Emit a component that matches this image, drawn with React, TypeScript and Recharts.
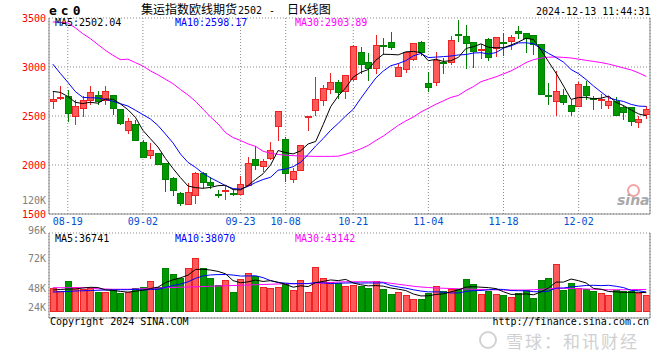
import React from "react";
import { ComposedChart, Bar, Line, XAxis, YAxis, CartesianGrid, Cell } from "recharts";

// trading days shown on the chart (MM-DD)
const dates = [
  "08-15", "08-16", "08-19", "08-20", "08-21", "08-22", "08-23", "08-26", "08-27", "08-28", "08-29", "08-30",
  "09-02", "09-03", "09-04", "09-05", "09-06", "09-09", "09-10", "09-11", "09-12", "09-13", "09-18", "09-19",
  "09-20", "09-23", "09-24", "09-25", "09-26", "09-27", "09-30",
  "10-08", "10-09", "10-10", "10-11", "10-14", "10-15", "10-16", "10-17", "10-18", "10-21", "10-22", "10-23",
  "10-24", "10-25", "10-28", "10-29", "10-30", "10-31",
  "11-01", "11-04", "11-05", "11-06", "11-07", "11-08", "11-11", "11-12", "11-13", "11-14", "11-15", "11-18",
  "11-19", "11-20", "11-21", "11-22", "11-25", "11-26", "11-27", "11-28", "11-29",
  "12-02", "12-03", "12-04", "12-05", "12-06", "12-09", "12-10", "12-11", "12-12", "12-13",
];

const opens = [
  2649, 2680, 2697, 2500, 2574, 2656, 2707, 2659, 2707, 2564,
  2353, 2411, 2231, 2095, 2115, 2013, 1860, 1714, 1602, 1690,
  1918, 1823, 1704, 1738, 1710, 1697, 1789, 2054, 1980, 2067,
  2394, 2258, 1857, 1945, 2490, 2557, 2659, 2768, 2843, 2751,
  2870, 3153, 3051, 2980, 3222, 3255, 2904, 2972, 3074, 3245,
  2830, 2837, 3048, 3041, 3335, 3310, 3245, 3170, 3279, 3184,
  3255, 3261, 3363, 3340, 3323, 3228, 2705, 2649, 2707, 2605,
  2598, 2802, 2678, 2662, 2605, 2649, 2582, 2582, 2435, 2513,
];
const highs = [
  2751, 2809, 2761, 2666, 2700, 2809, 2755, 2802, 2715, 2575,
  2480, 2462, 2258, 2224, 2125, 2020, 1874, 1720, 1816, 1925,
  1925, 1874, 1748, 1789, 1748, 1884, 2082, 2197, 2061, 2231,
  2545, 2286, 1969, 2200, 2500, 2898, 2819, 2939, 2870, 2915,
  3228, 3204, 3143, 3330, 3296, 3353, 3041, 3150, 3245, 3262,
  2945, 3149, 3092, 3312, 3483, 3430, 3250, 3238, 3296, 3300,
  3347, 3330, 3414, 3347, 3330, 3235, 2837, 2955, 2775, 2666,
  2843, 2853, 2700, 2728, 2700, 2694, 2615, 2590, 2496, 2605,
];
const lows = [
  2571, 2659, 2435, 2411, 2486, 2615, 2615, 2615, 2513, 2410,
  2319, 2241, 2071, 2061, 2000, 1720, 1687, 1578, 1595, 1605,
  1765, 1755, 1663, 1646, 1680, 1690, 1782, 1952, 1925, 2047,
  2241, 1823, 1816, 1935, 2343, 2503, 2598, 2728, 2673, 2673,
  2860, 2932, 2853, 2932, 3126, 3169, 2898, 2939, 3057, 3108,
  2741, 2802, 2932, 3023, 3251, 2980, 2990, 3082, 3057, 3102,
  3108, 3169, 3286, 3143, 3126, 2710, 2615, 2496, 2615, 2496,
  2590, 2666, 2557, 2571, 2571, 2500, 2462, 2401, 2377, 2469,
];
const closes = [
  2673, 2688, 2527, 2592, 2656, 2735, 2643, 2745, 2578, 2421,
  2439, 2251, 2078, 2149, 2003, 1856, 1741, 1605, 1724, 1918,
  1823, 1789, 1690, 1744, 1700, 1806, 2020, 1996, 2034, 2149,
  2541, 1911, 1929, 2197, 2496, 2666, 2779, 2843, 2741, 2911,
  3210, 3023, 2986, 3217, 3212, 3204, 3000, 3143, 3238, 3149,
  2792, 3071, 3035, 3272, 3325, 3242, 3159, 3180, 3102, 3296,
  3248, 3296, 3337, 3289, 3228, 2717, 2695, 2751, 2633, 2547,
  2819, 2707, 2668, 2670, 2649, 2503, 2537, 2445, 2469, 2571,
];

const ma5 = [
  2751, 2741, 2700, 2640, 2627, 2640, 2631, 2674, 2671, 2624,
  2565, 2487, 2353, 2268, 2184, 2067, 1965, 1871, 1786, 1769,
  1762, 1772, 1789, 1793, 1749, 1746, 1792, 1853, 1911, 2001,
  2148, 2126, 2113, 2145, 2215, 2240, 2413, 2596, 2705, 2788,
  2897, 2946, 2974, 3069, 3130, 3128, 3124, 3155, 3159, 3147,
  3064, 3079, 3057, 3064, 3099, 3189, 3207, 3236, 3202, 3196,
  3197, 3224, 3256, 3293, 3280, 3173, 3053, 2936, 2805, 2669,
  2689, 2691, 2675, 2682, 2703, 2639, 2605, 2561, 2521, 2502,
];
const ma10 = [
  3030, 2935, 2845, 2750, 2690, 2686, 2684, 2670, 2650, 2626,
  2602, 2559, 2514, 2470, 2404, 2316, 2226, 2112, 2027, 1976,
  1915, 1869, 1830, 1789, 1759, 1754, 1782, 1821, 1852, 1875,
  1947, 1959, 1983, 2028, 2108, 2194, 2270, 2355, 2425, 2501,
  2568, 2680, 2785, 2887, 2959, 3013, 3035, 3065, 3114, 3138,
  3096, 3101, 3106, 3112, 3123, 3127, 3143, 3146, 3133, 3147,
  3193, 3216, 3246, 3247, 3238, 3185, 3139, 3096, 3049, 2974,
  2931, 2872, 2805, 2744, 2686, 2664, 2648, 2618, 2601, 2598,
];
const ma30 = [
  3460, 3455, 3450, 3400, 3340, 3290, 3230, 3170, 3120, 3075,
  3080, 3045, 3010, 2960, 2920, 2875, 2830, 2770, 2715, 2650,
  2570, 2490, 2420, 2330, 2280, 2250, 2215, 2190, 2140, 2120,
  2108, 2100, 2095, 2092, 2090, 2088, 2088, 2088, 2090, 2110,
  2135, 2165, 2200, 2250, 2295, 2350, 2405, 2450, 2490, 2540,
  2580, 2620, 2655, 2690, 2710, 2760, 2800, 2850, 2875, 2900,
  2930, 2960, 3000, 3045, 3075, 3092, 3100, 3102, 3098, 3092,
  3080, 3068, 3057, 3045, 3030, 3010, 2990, 2970, 2940, 2904,
];

const volumes = [
  44600, 38600, 60000, 48000, 43400, 44600, 36600, 36600, 43400, 34600,
  36600, 44600, 46600, 60000, 48000, 84600, 73400, 65400, 86000, 105400,
  86000, 66000, 52000, 62000, 38000, 64000, 75400, 70000, 48000, 46000,
  48000, 54000, 42000, 62000, 38000, 88000, 66000, 56600, 55400, 50000,
  52000, 48600, 45400, 58600, 43400, 34000, 36600, 32000, 24000, 24000,
  35400, 50000, 38600, 43400, 43400, 63400, 54000, 34000, 38600, 34000,
  32000, 27400, 35400, 42000, 25400, 62000, 66000, 94000, 42000, 55400,
  45400, 43400, 38600, 35400, 32000, 42000, 38600, 38600, 35400, 32000,
];
const volMa5 = [
  42000, 43000, 44000, 44000, 46000, 47400, 47000, 42300, 41200, 39200,
  37800, 39600, 41400, 45000, 47600, 56700, 62400, 66400, 71600, 83100,
  83500, 81900, 79200, 74400, 60800, 56400, 58300, 61900, 59100, 60700,
  57500, 53200, 47600, 50400, 48800, 56800, 59200, 62100, 60800, 63200,
  56000, 52500, 50300, 50900, 49600, 46000, 43600, 40900, 34000, 30100,
  30400, 33100, 34400, 38300, 42200, 47800, 48600, 47600, 46700, 44800,
  38500, 33200, 33500, 34200, 32400, 38400, 46200, 57900, 57900, 63900,
  60600, 56000, 45000, 43600, 39000, 38300, 37300, 37300, 37300, 36741,
];
const volMa10 = [
  38000, 38500, 39000, 40000, 40500, 41000, 41500, 42000, 42000, 42600,
  42600, 43300, 41800, 43100, 43400, 47300, 51000, 53900, 58300, 65300,
  70100, 72100, 72800, 73000, 71900, 69900, 70100, 70500, 66700, 60700,
  56900, 55700, 54700, 54700, 54700, 57100, 56200, 54900, 55600, 56000,
  56400, 55900, 56200, 55900, 56400, 51000, 48100, 45600, 42500, 39900,
  38200, 38300, 37700, 36100, 36100, 39100, 40800, 41000, 42500, 43500,
  43100, 40900, 40600, 40400, 38600, 38500, 39700, 45700, 46000, 48200,
  49500, 51100, 51400, 50800, 51400, 49400, 46700, 41100, 40500, 38070,
];
const volMa30 = [
  46600, 46600, 46600, 46600, 46600, 46600, 44500, 44000, 43500, 43500,
  43500, 44000, 44500, 45000, 46000, 46500, 47000, 47500, 48000, 48500,
  49000, 49500, 50000, 50500, 51000, 51500, 52000, 52500, 53000, 53500,
  54000, 54500, 54500, 55000, 55000, 55500, 56000, 57000, 58000, 58500,
  58500, 58500, 58500, 58500, 57500, 55500, 53500, 51500, 49500, 48000,
  47000, 46000, 45500, 45000, 44500, 44000, 43500, 43000, 42500, 42300,
  42000, 42000, 42000, 42000, 42500, 43500, 44500, 45500, 45500, 45000,
  44500, 44000, 43500, 43000, 42500, 42500, 42500, 42800, 43000, 43142,
];

const dateTicks = ["08-19", "09-02", "09-23", "10-08", "10-21", "11-04", "11-18", "12-02"];
const priceTicks = [1500, 2000, 2500, 3000, 3500];
const volumeGridTicks = [70000, 110000, 156000];

const RED_FILL = "#ff5a5a";
const RED_EDGE = "#ee2222";
const GREEN_FILL = "#009a00";
const GREEN_EDGE = "#008000";
const GRID = "#8a8a8a";
const MONO = "'DejaVu Sans Mono', monospace";
const CJK = "'Noto Sans CJK SC', sans-serif";

const rows = dates.map((date, i) => ({
  date,
  open: opens[i],
  high: highs[i],
  low: lows[i],
  close: closes[i],
  range: [lows[i], highs[i]],
  up: closes[i] >= opens[i],
  ma5: ma5[i],
  ma10: ma10[i],
  ma30: ma30[i],
  vol: volumes[i],
  vma5: volMa5[i],
  vma10: volMa10[i],
  vma30: volMa30[i],
}));

// draws one candle inside the box recharts gives for the [low, high] range
const Candle = (props: any) => {
  const { x, y, width, height, payload } = props;
  if (!payload || height == null) return null;
  const { open, close, high, low, up } = payload;
  const k = height / Math.max(1, high - low);
  const yOpen = y + (high - open) * k;
  const yClose = y + (high - close) * k;
  const top = Math.min(yOpen, yClose);
  const bodyH = Math.max(1, Math.abs(yOpen - yClose));
  const cx = x + width / 2;
  const edge = up ? RED_EDGE : GREEN_EDGE;
  return (
    <g shapeRendering="crispEdges">
      <line x1={cx} x2={cx} y1={y} y2={y + height} stroke={edge} strokeWidth={1} />
      <rect x={x} y={top} width={width} height={bodyH} fill={up ? RED_FILL : GREEN_FILL} stroke={edge} strokeWidth={1} />
    </g>
  );
};

const Txt = ({ left, right, top, color = "#000", size = 10, family = MONO, style, children }: any) => (
  <div
    style={{
      position: "absolute",
      left,
      right,
      top,
      color,
      fontSize: size,
      fontFamily: family,
      lineHeight: 1,
      whiteSpace: "pre",
      ...style,
    }}
  >
    {children}
  </div>
);

export default function App() {
  return (
    <div style={{ position: "absolute", left: 0, top: 0, width: 660, height: 360, background: "#fff", overflow: "hidden" }}>
      {/* price panel */}
      <div style={{ position: "absolute", left: 0, top: 0 }}>
        <ComposedChart width={660} height={240} data={rows} margin={{ top: 18, right: 0, bottom: 0, left: 0 }} barSize={6}>
          <CartesianGrid stroke={GRID} strokeDasharray="1 2" />
          <XAxis
            dataKey="date"
            ticks={dateTicks}
            interval={0}
            height={26}
            tickLine={false}
            tickSize={0}
            tickMargin={4}
            axisLine={{ stroke: GRID }}
            tick={{ fill: "#0050d0", fontSize: 10, fontFamily: MONO }}
          />
          <YAxis
            domain={[1500, 3500]}
            ticks={priceTicks}
            allowDataOverflow
            interval={0}
            width={49}
            tickLine={false}
            tickSize={0}
            tickMargin={3}
            axisLine={{ stroke: GRID }}
            tick={{ fill: "#ff0000", fontSize: 10, fontFamily: MONO }}
          />
          <YAxis yAxisId="edge" orientation="right" domain={[1500, 3500]} width={10} tick={false} tickLine={false} axisLine={{ stroke: GRID }} />
          <Bar dataKey="range" shape={Candle} isAnimationActive={false} />
          <Line dataKey="ma30" stroke="#ff00ff" strokeWidth={1} dot={false} isAnimationActive={false} />
          <Line dataKey="ma10" stroke="#0000ff" strokeWidth={1} dot={false} isAnimationActive={false} />
          <Line dataKey="ma5" stroke="#000000" strokeWidth={1} dot={false} isAnimationActive={false} />
        </ComposedChart>
      </div>

      {/* volume panel */}
      <div style={{ position: "absolute", left: 0, top: 0 }}>
        <ComposedChart width={660} height={330} data={rows} margin={{ top: 233, right: 0, bottom: 11, left: 0 }} barSize={6}>
          <CartesianGrid stroke={GRID} strokeDasharray="1 2" />
          <XAxis dataKey="date" ticks={dateTicks} interval={0} height={1} tick={false} tickLine={false} axisLine={{ stroke: GRID }} />
          <YAxis
            domain={[-14000, 156000]}
            ticks={volumeGridTicks}
            allowDataOverflow
            interval={0}
            width={49}
            tick={false}
            tickLine={false}
            axisLine={{ stroke: GRID }}
          />
          <YAxis yAxisId="edge" orientation="right" domain={[-14000, 156000]} width={10} tick={false} tickLine={false} axisLine={{ stroke: GRID }} />
          <Bar dataKey="vol" isAnimationActive={false} shapeRendering="crispEdges">
            {rows.map((r, i) => (
              <Cell key={`vol-${i}`} fill={r.up ? RED_FILL : GREEN_FILL} stroke={r.up ? RED_EDGE : GREEN_EDGE} />
            ))}
          </Bar>
          <Line dataKey="vma30" stroke="#ff00ff" strokeWidth={1} dot={false} isAnimationActive={false} />
          <Line dataKey="vma10" stroke="#0000ff" strokeWidth={1} dot={false} isAnimationActive={false} />
          <Line dataKey="vma5" stroke="#000000" strokeWidth={1} dot={false} isAnimationActive={false} />
        </ComposedChart>
      </div>

      {/* header */}
      <Txt left={49} top={4} size={13} style={{ fontWeight: "bold", letterSpacing: 4 }}>ec0</Txt>
      <Txt left={141} top={3} size={12} family={CJK}>集运指数欧线期货</Txt>
      <Txt left={238} top={6} size={10}>2502</Txt>
      <Txt left={269} top={6} size={10}>-</Txt>
      <Txt left={287} top={3} size={12} family={CJK}>日K线图</Txt>
      <Txt left={536} top={7} size={10}>2024-12-13 11:44:31</Txt>

      {/* moving average readouts */}
      <Txt left={55} top={18}>MA5:2502.04</Txt>
      <Txt left={175} top={18} color="#0000ff">MA10:2598.17</Txt>
      <Txt left={295} top={18} color="#ff00ff">MA30:2903.89</Txt>
      <Txt left={55} top={234}>MA5:36741</Txt>
      <Txt left={175} top={234} color="#0000ff">MA10:38070</Txt>
      <Txt left={295} top={234} color="#ff00ff">MA30:43142</Txt>

      {/* volume scale labels */}
      <Txt right={614} top={196} color="#808080">120K</Txt>
      <Txt right={614} top={226} color="#808080">96K</Txt>
      <Txt right={614} top={254} color="#808080">72K</Txt>
      <Txt right={614} top={284} color="#808080">48K</Txt>
      <Txt right={614} top={303} color="#808080">24K</Txt>

      {/* sina mark */}
      <div style={{ position: "absolute", left: 627, top: 184, width: 9, height: 9, borderRadius: "50%", border: "2px solid #f3a3a3" }} />
      <Txt left={617} top={193} size={14} family="'DejaVu Sans', sans-serif" color="#a9a9a9" style={{ fontWeight: "bold", fontStyle: "italic" }}>sina</Txt>

      {/* footer */}
      <Txt left={50} top={317}>Copyright 2024 SINA.COM</Txt>
      <Txt right={11} top={317}>http://finance.sina.com.cn</Txt>
      <div style={{ position: "absolute", left: 479, top: 331, width: 14, height: 14, borderRadius: "50%", border: "2px solid #d2d2d2" }} />
      <Txt left={506} top={332} size={17} family={CJK} color="#d0d0d0" style={{ letterSpacing: 2 }}>雪球：和讯财经</Txt>
    </div>
  );
}
